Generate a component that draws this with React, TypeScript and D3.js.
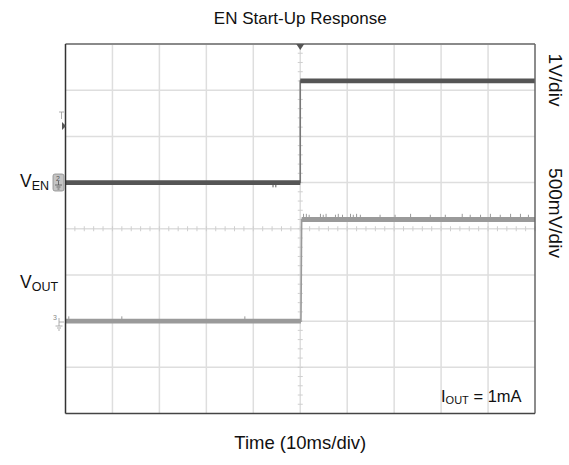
import * as d3 from 'd3';

const W = 569;
const H = 465;
const PLOT = { left: 65.5, right: 535, top: 44, bottom: 413.5 };

// time base: 10 ms/div, trigger at centre
const timeDomain = [-50, 50];
const divDomain = [-4, 4];
const timeGrid = [-40, -30, -20, -10, 0, 10, 20, 30, 40];
const divGrid = [-3, -2, -1, 0, 1, 2, 3];

// EN channel: 1V/div, ground marker at +1 div
const enVoltsPerDiv = 1;
const enOffsetDiv = 1;
const enTime = [-50, 0, 0, 50];
const enVolts = [0, 0, 2.2, 2.2];
const enSpikeTime = [-5.8, -5.2];
const enSpikeVolts = [-0.06, -0.06];

// VOUT channel: 500mV/div, ground marker at -2 div
const outVoltsPerDiv = 0.5;
const outOffsetDiv = -2;
const outTime = [-50, 0.15, 0.3, 50];
const outVolts = [0, 0, 1.1, 1.1];
const outSpikeTime = [-49.3, -38, -11.8, 0.7, 1.3, 1.9, 4.3, 4.9, 5.5, 7.5, 8.1, 9, 10.7, 11.3, 12, 12.8,
  17, 20.2, 23.5, 27.7, 30.9, 34.5, 36.2, 38.4, 40.5, 42.6, 44.8, 46.9, 48.6];
const outSpikeVolts = [0.03, 0.03, 0.03, 1.14, 1.14, 1.13, 1.14, 1.13, 1.14, 1.13, 1.14, 1.13, 1.14, 1.13, 1.14, 1.13,
  1.13, 1.13, 1.14, 1.13, 1.13, 1.14, 1.13, 1.13, 1.14, 1.13, 1.14, 1.14, 1.13];

const FONT = 'Arial, "Liberation Sans", Helvetica, sans-serif';

const x = d3.scaleLinear(timeDomain, [PLOT.left, PLOT.right]);
const y = d3.scaleLinear(divDomain, [PLOT.bottom, PLOT.top]);
const enY = (v: number) => y(enOffsetDiv + v / enVoltsPerDiv);
const outY = (v: number) => y(outOffsetDiv + v / outVoltsPerDiv);

function Trace({ t, v, toY, color, edge, spikesT, spikesV }: {
  t: number[]; v: number[]; toY: (v: number) => number; color: string; edge: string;
  spikesT: number[]; spikesV: number[];
}) {
  const pts = t.map((ti, i) => [x(ti), toY(v[i])] as [number, number]);
  const line = d3.line();
  const levels: [number, number][][] = [];
  for (let i = 0; i < pts.length - 1; i++) {
    if (v[i] === v[i + 1]) levels.push([pts[i], pts[i + 1]]);
  }
  // level of the trace at a spike time
  const base = (ts: number) => {
    let lv = v[0];
    t.forEach((ti, i) => { if (ti <= ts) lv = v[i]; });
    return lv;
  };
  return (
    <g>
      <path d={line(pts) ?? ''} fill="none" stroke={edge} strokeWidth={1.6} />
      {levels.map((seg, i) => (
        <path key={i} d={line(seg) ?? ''} fill="none" stroke={color} strokeWidth={4.8} />
      ))}
      {spikesT.map((ts, i) => {
        const b = base(ts);
        const dir = spikesV[i] > b ? -1 : 1;
        return (
          <line key={'s' + i} x1={x(ts)} x2={x(ts)} y1={toY(b) + dir * 2}
            y2={toY(spikesV[i]) + dir * 2} stroke={color} strokeWidth={1} />
        );
      })}
    </g>
  );
}

export default function App() {
  const cx = x(0);
  const cy = y(0);
  const minorT = d3.range(-50, 50.01, 2);
  const minorD = d3.range(-4, 4.01, 0.2);
  return (
    <svg width={W} height={H} style={{ position: 'absolute', left: 0, top: 0, background: '#fff' }}
      fontFamily={FONT}>
      {/* grid */}
      {timeGrid.map(t => (
        <line key={'gx' + t} x1={x(t)} x2={x(t)} y1={PLOT.top} y2={PLOT.bottom} stroke="#dedede" strokeWidth={1.5} />
      ))}
      {divGrid.map(d => (
        <line key={'gy' + d} x1={PLOT.left} x2={PLOT.right} y1={y(d)} y2={y(d)} stroke="#dedede" strokeWidth={1.5} />
      ))}
      {/* centre graticule minor ticks */}
      {minorT.map(t => (
        <line key={'mt' + t} x1={x(t)} x2={x(t)} y1={cy - 2.5} y2={cy + 2.5} stroke="#cfcfcf" strokeWidth={1} />
      ))}
      {minorD.map(d => (
        <line key={'md' + d} x1={cx - 2.5} x2={cx + 2.5} y1={y(d)} y2={y(d)} stroke="#cfcfcf" strokeWidth={1} />
      ))}

      {/* traces */}
      <Trace t={enTime} v={enVolts} toY={enY} color="#555555" edge="#777" spikesT={enSpikeTime} spikesV={enSpikeVolts} />
      <Trace t={outTime} v={outVolts} toY={outY} color="#9a9a9a" edge="#9a9a9a" spikesT={outSpikeTime} spikesV={outSpikeVolts} />

      {/* frame */}
      <line x1={PLOT.left} x2={PLOT.right} y1={PLOT.top} y2={PLOT.top} stroke="#8a8a8a" strokeWidth={2} />
      <line x1={PLOT.right} x2={PLOT.right} y1={PLOT.top} y2={PLOT.bottom} stroke="#666" strokeWidth={1.5} />
      <line x1={PLOT.left} x2={PLOT.right} y1={PLOT.bottom} y2={PLOT.bottom} stroke="#444" strokeWidth={1.5} />
      <line x1={PLOT.left} x2={PLOT.left} y1={PLOT.top} y2={PLOT.bottom} stroke="#333" strokeWidth={1.5} />

      {/* trigger position marker */}
      <path d={`M${cx - 4},${PLOT.top} L${cx + 4},${PLOT.top} L${cx},${PLOT.top + 6} Z`} fill="#555" />
      {/* trigger level marker */}
      <g stroke="#999" strokeWidth={0.8}>
        <line x1={59} x2={64} y1={112} y2={112} />
        <line x1={61.5} x2={61.5} y1={112} y2={119} />
      </g>
      <path d={`M62,122 L66,126 L62,130 Z`} fill="#555" />

      {/* EN channel marker */}
      <rect x={53} y={174} width={11} height={17} rx={2} fill="#c4c4c4" stroke="#8c8c8c" strokeWidth={0.8} />
      <text x={56} y={181} fontSize={7} fill="#555">2</text>
      <g stroke="#555" strokeWidth={0.8}>
        <line x1={58.5} x2={58.5} y1={181} y2={185} />
        <line x1={55} x2={62} y1={185} y2={185} />
        <line x1={56.5} x2={60.5} y1={187} y2={187} />
        <line x1={57.5} x2={59.5} y1={189} y2={189} />
      </g>
      {/* VOUT channel marker */}
      <text x={53} y={320} fontSize={7} fill="#888">3</text>
      <g stroke="#999" strokeWidth={0.8}>
        <line x1={59} x2={59} y1={318} y2={326} />
        <line x1={55.5} x2={62.5} y1={326} y2={326} />
        <line x1={57} x2={61} y1={328} y2={328} />
        <line x1={58} x2={60} y1={330} y2={330} />
        <line x1={59} x2={64} y1={322} y2={322} />
      </g>

      {/* labels */}
      <text x={cx} y={24} textAnchor="middle" fontSize={17} fill="#111">EN Start-Up Response</text>
      <text x={cx} y={449} textAnchor="middle" fontSize={18.5} fill="#111">Time (10ms/div)</text>
      <text x={20} y={187} fontSize={17.5} fill="#111">V<tspan fontSize={12.5} dy={3}>EN</tspan></text>
      <text x={20} y={288} fontSize={17.5} fill="#111">V<tspan fontSize={12.5} dy={3}>OUT</tspan></text>
      <text x={441} y={402} fontSize={16.5} fill="#111">I<tspan fontSize={11} dy={2}>OUT</tspan><tspan dy={-2}> = 1mA</tspan></text>
      <text transform={`translate(549,80) rotate(90)`} textAnchor="middle" fontSize={19} fill="#111">1V/div</text>
      <text transform={`translate(549,213) rotate(90)`} textAnchor="middle" fontSize={19} fill="#111">500mV/div</text>
    </svg>
  );
}
